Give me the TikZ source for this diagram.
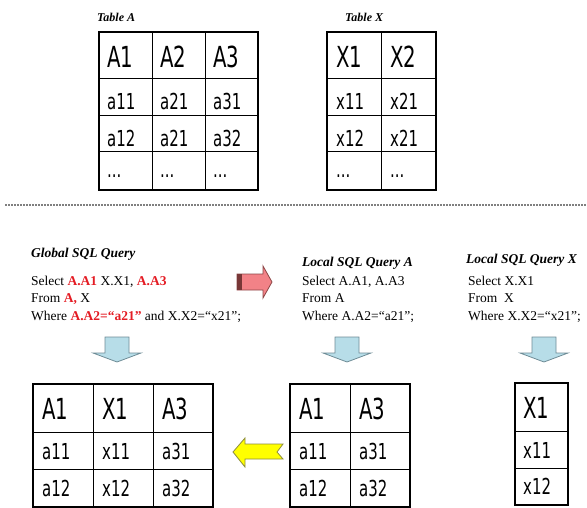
\documentclass[tikz,border=0pt]{standalone}
\usepackage{fontspec}
\setmainfont{Liberation Serif}
\newfontfamily\tabfont[FakeStretch=0.68]{DejaVu Sans}
\definecolor{sqlred}{RGB}{228,28,36}
\definecolor{downfill}{RGB}{183,221,232}
\definecolor{downline}{RGB}{110,140,150}
\definecolor{rightfill}{RGB}{242,130,135}
\definecolor{rightline}{RGB}{140,70,70}
\definecolor{rightdark}{RGB}{120,55,55}
\definecolor{leftfill}{RGB}{255,255,0}
\definecolor{leftline}{RGB}{140,140,60}
\newcommand{\hl}[1]{\textcolor{sqlred}{\textbf{#1}}}

\begin{document}
\begin{tikzpicture}[x=1pt,y=-1pt,
		outerline/.style={line width=2.2pt},
		innerline/.style={line width=1pt},
		head/.style={anchor=base west,inner sep=0pt,font=\tabfont\fontsize{29}{29}\selectfont},
		cell/.style={anchor=base west,inner sep=0pt,font=\tabfont\fontsize{22}{22}\selectfont},
		tabtitle/.style={anchor=base west,inner sep=0pt,font=\fontsize{12}{12}\selectfont\bfseries\itshape},
		qtitle/.style={anchor=base west,inner sep=0pt,font=\fontsize{13.5}{14}\selectfont\bfseries\itshape},
		sql/.style={anchor=base west,inner sep=0pt,font=\fontsize{13.5}{14}\selectfont},
		downarrow/.style={fill=downfill,draw=downline,line width=0.8pt}]
	\useasboundingbox (0,0) rectangle (587,508);
	% Table A
	\node[tabtitle] (titleA) at (97,22) {Table A};
	\draw[innerline] (152,32)--(152,190) (205,32)--(205,190);
	\foreach \y in {79,116,152} \draw[innerline] (99,\y)--(258,\y);
	\draw[outerline] (99,32) rectangle (258,190);
	\foreach \t [count=\i from 0] in {A1,A2,A3} \node[head] (ta-h\i) at (107+53*\i,68) {\t};
	\foreach \t [count=\i from 0] in {a11,a21,a31} \node[cell] (ta-a\i) at (107+53*\i,110) {\t};
	\foreach \t [count=\i from 0] in {a12,a21,a32} \node[cell] (ta-b\i) at (107+53*\i,147) {\t};
	\foreach \i in {0,1,2} \node[cell] (ta-c\i) at (107+53*\i,178) {...};
	% Table X
	\node[tabtitle] (titleX) at (345,22) {Table X};
	\draw[innerline] (381,32)--(381,190);
	\foreach \y in {79,116,152} \draw[innerline] (327,\y)--(436,\y);
	\draw[outerline] (327,32) rectangle (436,190);
	\foreach \t [count=\i from 0] in {X1,X2} \node[head] (tx-h\i) at (336+54*\i,68) {\t};
	\foreach \t [count=\i from 0] in {x11,x21} \node[cell] (tx-a\i) at (336+54*\i,110) {\t};
	\foreach \t [count=\i from 0] in {x12,x21} \node[cell] (tx-b\i) at (336+54*\i,147) {\t};
	\foreach \i in {0,1} \node[cell] (tx-c\i) at (336+54*\i,178) {...};
	\draw[gray,line width=1.2pt,dash pattern=on 1.5pt off 1.5pt] (5,205)--(587,205);
	% queries
	\node[qtitle] (gq) at (31,258) {Global SQL Query};
	\node[sql] (gq1) at (31,285) {Select \hl{A.A1} X.X1, \hl{A.A3}};
	\node[sql] (gq2) at (31,302) {From \hl{A,} X};
	\node[sql] (gq3) at (31,320) {Where \hl{A.A2=“a21”} and X.X2=“x21”;};
	\node[qtitle] (lqa) at (302,266) {Local SQL Query A};
	\node[sql] (lqa1) at (302,285) {Select A.A1, A.A3};
	\node[sql] (lqa2) at (302,302) {From A};
	\node[sql] (lqa3) at (302,320) {Where A.A2=“a21”;};
	\node[qtitle] (lqx) at (466,264) {Local SQL Query X};
	\node[sql] (lqx1) at (468,285) {Select X.X1};
	\node[sql] (lqx2) at (468,302) {From \ X};
	\node[sql] (lqx3) at (468,320) {Where X.X2=“x21”;};
	% arrows
	\draw[fill=rightfill,draw=rightline,line width=0.8pt] (237,274)--(263,274)--(263,266)--(272,282)--(263,298)--(263,290)--(237,290)--cycle;
	\fill[rightdark] (237,274) rectangle (242,290);
	\foreach \cx in {117,347,544}
		\draw[downarrow] (\cx-12,337)--(\cx+12,337)--(\cx+12,353)--(\cx+24,353)--(\cx,362)--(\cx-24,353)--(\cx-12,353)--cycle;
	\draw[fill=leftfill,draw=leftline,line width=0.8pt] (233,452)--(245,438)--(245,444)--(283,444)--(277,452)--(283,459)--(245,459)--(245,467)--cycle;
	% result tables
	\draw[innerline] (93,384)--(93,507) (153,384)--(153,507);
	\foreach \y in {432,469} \draw[innerline] (33,\y)--(213,\y);
	\draw[outerline] (33,384) rectangle (213,507);
	\foreach \t [count=\i from 0] in {A1,X1,A3} \node[head] (r-h\i) at (42+60*\i,419) {\t};
	\foreach \t [count=\i from 0] in {a11,x11,a31} \node[cell] (r-a\i) at (42+60*\i,459) {\t};
	\foreach \t [count=\i from 0] in {a12,x12,a32} \node[cell] (r-b\i) at (42+60*\i,496) {\t};
	\draw[innerline] (350,384)--(350,507);
	\foreach \y in {432,469} \draw[innerline] (290,\y)--(410,\y);
	\draw[outerline] (290,384) rectangle (410,507);
	\foreach \t [count=\i from 0] in {A1,A3} \node[head] (ra-h\i) at (299+60*\i,419) {\t};
	\foreach \t [count=\i from 0] in {a11,a31} \node[cell] (ra-a\i) at (299+60*\i,459) {\t};
	\foreach \t [count=\i from 0] in {a12,a32} \node[cell] (ra-b\i) at (299+60*\i,496) {\t};
	\foreach \y in {431,468} \draw[innerline] (515,\y)--(568,\y);
	\draw[outerline] (515,383) rectangle (568,505);
	\node[head] (rx-h) at (523,418) {X1};
	\node[cell] (rx-a) at (523,458) {x11};
	\node[cell] (rx-b) at (523,494) {x12};
\end{tikzpicture}
\end{document}
